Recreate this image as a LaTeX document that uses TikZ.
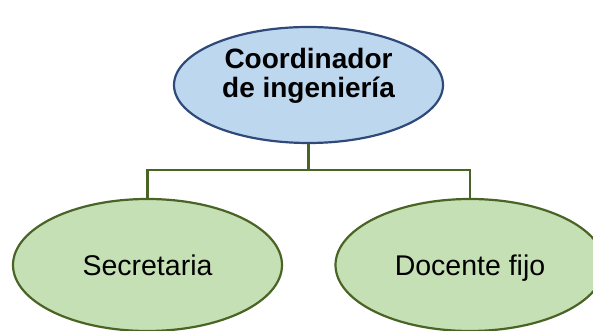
\documentclass[tikz,border=0pt]{standalone}
\usepackage{fontspec}
\setmainfont{Liberation Sans}
\usetikzlibrary{shapes.geometric}

\definecolor{jefefill}{HTML}{BDD7EE}
\definecolor{jefeline}{HTML}{2F4A7A}
\definecolor{areafill}{HTML}{C5E0B4}
\definecolor{arealine}{HTML}{4A6426}

\tikzset{
	jefe/.style={ellipse, draw=jefeline, fill=jefefill, line width=2.2pt, inner sep=0pt,
		minimum width=269pt, minimum height=116pt},
	jefetxt/.style={inner sep=0pt, align=center,
		font=\fontsize{28}{29}\selectfont\bfseries},
	area/.style={ellipse, draw=arealine, fill=areafill, line width=2.2pt, inner sep=0pt,
		minimum width=269pt, minimum height=132pt, text height=22pt, text depth=0pt,
		font=\fontsize{28.5}{30}\selectfont},
	rama/.style={draw=arealine, line width=2.2pt}
}

\begin{document}
\begin{tikzpicture}[x=1pt, y=1pt]
	\useasboundingbox (0, 0) rectangle (593, 331);

	\node[jefe] (coord) at (308.5, 246) {};
	\node[jefetxt] (coordtxt) at ([yshift=9pt]coord.center) {Coordinador\\de ingeniería};
	\node[area] (secre) at (147.5, 66) {Secretaria};
	\node[area] (docen) at (470, 66) {Docente fijo};

	\coordinate (bus) at (308.5, 161);

	\draw[rama] (coord.south) -- (bus);
	\draw[rama] (secre.north) |- (bus) -| (docen.north);

\end{tikzpicture}
\end{document}
